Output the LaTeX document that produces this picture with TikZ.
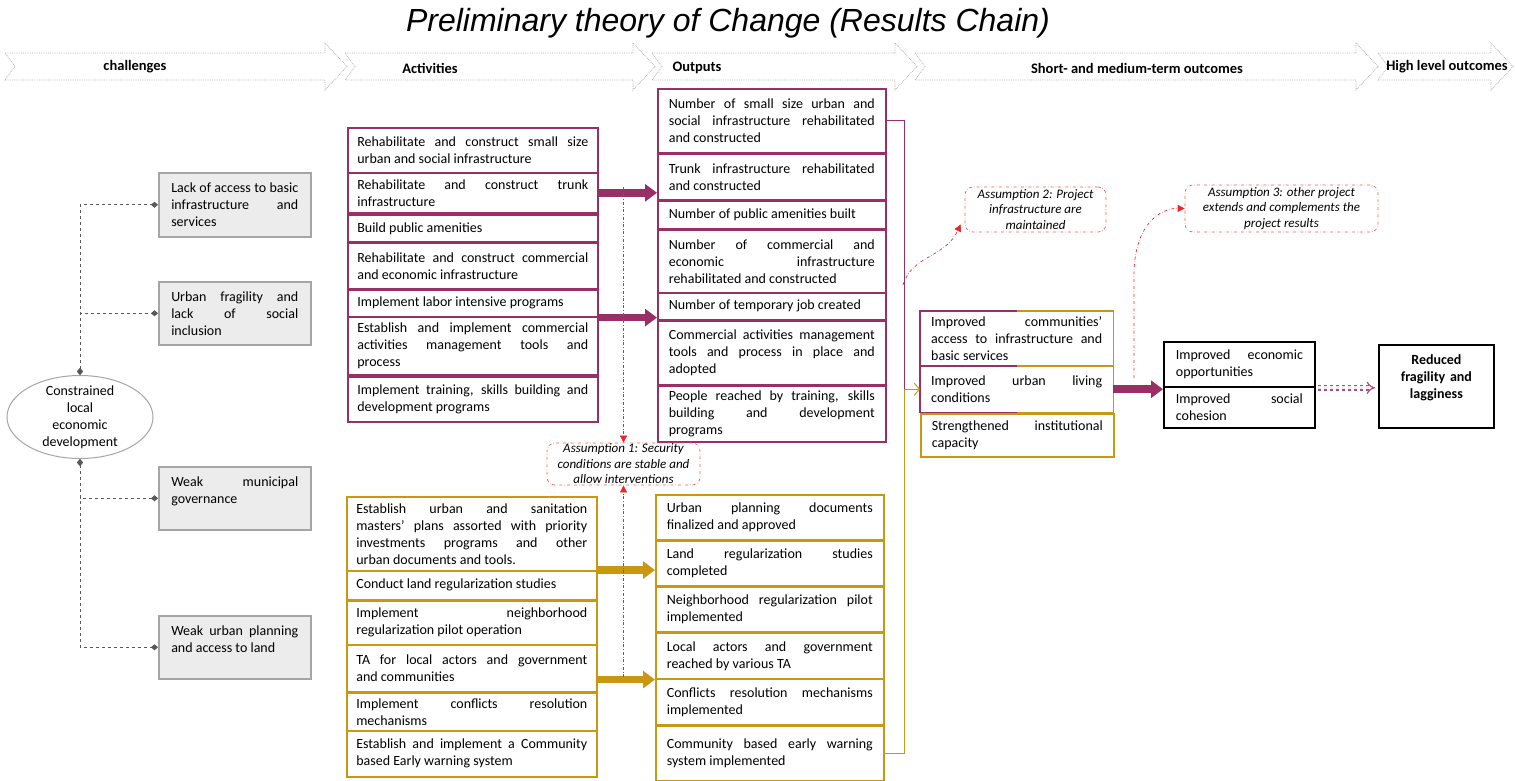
\documentclass[tikz,border=0pt]{standalone}
\usepackage{fontspec}
\setmainfont{Carlito}
\newfontfamily\titlefont{Liberation Sans}
\usetikzlibrary{arrows.meta,shapes.geometric,positioning}

\definecolor{plum}{RGB}{152,48,101}
\definecolor{ochre}{RGB}{201,152,16}
\definecolor{chalfill}{RGB}{236,236,236}
\definecolor{challine}{RGB}{165,165,165}
\definecolor{asmred}{RGB}{235,40,40}

\newcommand\boxfont{\fontsize{14}{17}\selectfont\hyphenpenalty=10000\exhyphenpenalty=10000\tolerance=10000}
\newcommand\asmfont{\fontsize{13}{15.5}\selectfont\itshape}
\newcommand\topgap[1]{\par\vspace{#1}\hrule height 0pt}

\tikzset{
  hdr/.style={draw=gray!60, densely dotted, line width=0.8pt},
  hdrtext/.style={font=\fontsize{14.5}{17}\selectfont\bfseries},
  chalbox/.style={draw=challine, fill=chalfill, line width=1.5pt, anchor=north west,
    align=justify, font=\boxfont, text width=127pt, inner xsep=12.5pt, inner ysep=4pt,
    minimum height=63pt},
  chalell/.style={draw=challine, ellipse, line width=1pt, minimum width=146pt,
    minimum height=83pt, inner sep=0pt},
  dashline/.style={draw=gray!70!black, dashed, line width=0.8pt,
    {Diamond[length=7pt,width=6pt]}-{Diamond[length=7pt,width=6pt]}},
  actbox/.style={draw=#1, line width=1.6pt, anchor=north west, align=justify,
    font=\boxfont, text width=231pt, inner xsep=9.5pt, inner ysep=3pt},
  outbox/.style={draw=#1, line width=1.6pt, anchor=north west, align=justify,
    font=\boxfont, text width=206pt, inner xsep=11pt, inner ysep=3pt},
  outcbox/.style={anchor=north west, align=justify, font=\boxfont,
    text width=171pt, inner xsep=11pt, inner ysep=3pt},
  resbox/.style={draw=black, line width=1.8pt, anchor=north west, align=justify,
    font=\boxfont, text width=127pt, inner xsep=12pt, inner ysep=3pt},
  asm/.style={draw=asmred!75, dash dot, line width=0.7pt, rounded corners=8pt,
    align=center, font=\asmfont, inner sep=1pt},
  assume/.style={draw=asmred, dash dot, line width=0.7pt,
    -{Triangle[length=7pt,width=7pt]}},
  bigarrow/.style={draw=#1, line width=7.5pt, -{Triangle[length=12pt,width=17pt]}},
  dbl/.style={draw=plum!85, dashed, line width=1.2pt, double=plum!10,
    double distance=3pt, -{Implies}},
}

\begin{document}
\begin{tikzpicture}[x=1pt,y=-1pt]
\useasboundingbox (0,0) rectangle (1515,780);

% title
\node[font=\titlefont\itshape\fontsize{32}{36}\selectfont] (title) at (728,23)
  {Preliminary theory of Change (Results Chain)};

% header arrows
\foreach \a/\b in {5/347,345/655,652/917,915/1378,1378/1513}
  \draw[hdr] (\a,53) -- ({\b-22},53) -- ({\b-22},43) -- (\b,66.5) -- ({\b-22},90)
    -- ({\b-22},80) -- (\a,80) -- ({\a+10},66.5) -- cycle;
\node[hdrtext] (hchal) at (135,67) {challenges};
\node[hdrtext] (hact) at (430,68) {Activities};
\node[hdrtext] (hout) at (697,68) {Outputs};
\node[hdrtext] (hsmt) at (1137,68) {Short- and medium-term outcomes};
\node[hdrtext] (hhigh) at (1447,67) {High level outcomes};

% challenges
\node[chalell] (ell) at (80,417) {};
\node[font=\boxfont, align=center] (elltext) at (ell) {Constrained\\local\\economic\\development};
\node[chalbox, minimum height=64pt] (c1) at (158,172) {Lack of access to basic \linebreak infrastructure and \linebreak services};
\node[chalbox] (c2) at (158,281) {Urban fragility and \linebreak lack of social \linebreak inclusion};
\node[chalbox] (c3) at (158,466) {Weak municipal \linebreak governance\topgap{14pt}};
\node[chalbox] (c4) at (158,615) {Weak urban planning \linebreak and access to land\topgap{16pt}};
\draw[dashline] (ell.north) |- (c1.west);
\draw[dashline] (ell.north) |- (c2.west);
\draw[dashline] (ell.south) |- (c3.west);
\draw[dashline] (ell.south) |- (c4.west);

% activities (infrastructure)
\node[actbox=plum, minimum height=45pt] (A1) at (347,127) {Rehabilitate and construct small size \linebreak urban and social infrastructure};
\node[actbox=plum, minimum height=40pt] (A2) at (347,172) {Rehabilitate and construct trunk \linebreak infrastructure};
\node[actbox=plum, minimum height=27pt] (A3) at (347,214) {Build public amenities};
\node[actbox=plum, minimum height=46pt] (A4) at (347,242) {Rehabilitate and construct commercial \linebreak and economic infrastructure};
\node[actbox=plum, minimum height=27pt] (A5) at (347,289) {Implement labor intensive programs};
\node[actbox=plum, minimum height=58pt] (A6) at (347,316) {Establish and implement commercial \linebreak activities management tools and \linebreak process};
\node[actbox=plum, minimum height=45pt] (A7) at (347,376) {Implement training, skills building and \linebreak development programs};

% outputs (infrastructure)
\node[outbox=plum, minimum height=64pt] (O1) at (657,88) {Number of small size urban and \linebreak social infrastructure rehabilitated \linebreak and constructed};
\node[outbox=plum, minimum height=46pt] (O2) at (657,153) {Trunk infrastructure rehabilitated \linebreak and constructed};
\node[outbox=plum, minimum height=28pt] (O3) at (657,200) {Number of public amenities built};
\node[outbox=plum, minimum height=63pt] (O4) at (657,229) {Number of commercial and \linebreak economic infrastructure \linebreak rehabilitated and constructed};
\node[outbox=plum, minimum height=27pt] (O5) at (657,292) {Number of temporary job created};
\node[outbox=plum, minimum height=64pt] (O6) at (657,320) {Commercial activities management \linebreak tools and process in place and \linebreak adopted};
\node[outbox=plum, minimum height=56pt] (O7) at (657,385) {People reached by training, skills \linebreak building and development \linebreak programs};

% activities (planning)
\node[actbox=ochre, minimum height=74pt] (G1) at (346,496) {Establish urban and sanitation \linebreak masters' plans assorted with priority \linebreak investments programs and other \linebreak urban documents and tools.};
\node[actbox=ochre, minimum height=29pt] (G2) at (346,570) {Conduct land regularization studies};
\node[actbox=ochre, minimum height=44pt] (G3) at (346,600) {Implement neighborhood \linebreak regularization pilot operation};
\node[actbox=ochre, minimum height=47pt] (G4) at (346,644) {TA for local actors and government \linebreak and communities};
\node[actbox=ochre, minimum height=38pt] (G5) at (346,692) {Implement conflicts resolution \linebreak mechanisms};
\node[actbox=ochre, minimum height=46pt] (G6) at (346,730) {Establish and implement a Community \linebreak based Early warning system};

% outputs (planning)
\node[outbox=ochre, minimum height=45pt] (P1) at (655,494) {Urban planning documents \linebreak finalized and approved};
\node[outbox=ochre, minimum height=45pt] (P2) at (655,540) {Land regularization studies \linebreak completed};
\node[outbox=ochre, minimum height=45pt] (P3) at (655,586) {Neighborhood regularization pilot \linebreak implemented};
\node[outbox=ochre, minimum height=46pt] (P4) at (655,632) {Local actors and government \linebreak reached by various TA};
\node[outbox=ochre, minimum height=46pt] (P5) at (655,678) {Conflicts resolution mechanisms \linebreak implemented};
\node[outbox=ochre, minimum height=55pt] (P6) at (655,725) {Community based early warning \linebreak system implemented};

% outcomes
\node[outcbox, draw=ochre, line width=1.6pt, minimum height=43pt] (U3) at (920,413) {Strengthened institutional \linebreak capacity};
\node[outcbox, minimum height=55pt] (U1) at (920,311) {Improved communities' \linebreak access to infrastructure and \linebreak basic services};
\node[outcbox, minimum height=46pt] (U2) at (920,366) {Improved urban living \linebreak conditions};
\foreach \u in {U1,U2} {
  \draw[plum, line width=1.6pt] (\u.north) -- (\u.north west) -- (\u.south west) -- (\u.south);
  \draw[ochre, line width=1.6pt] (\u.north) -- (\u.north east) -- (\u.south east) -- (\u.south);
}

% high level
\node[resbox, minimum height=45pt] (R1) at (1163,341) {Improved economic \linebreak opportunities};
\node[resbox, minimum height=41pt] (R2) at (1163,386) {Improved social \linebreak cohesion};
\node[resbox, minimum height=83pt, text width=95pt, inner xsep=10pt, align=center] (reduced) at (1378,344)
  {\textbf{Reduced}\\\textbf{fragility and}\\\textbf{lagginess}\topgap{18pt}};

% assumptions
\node[asm, minimum width=153pt, minimum height=42pt] (S1) at (623.5,464) {Assumption 1: Security\\conditions are stable and\\allow interventions};
\node[asm, minimum width=141pt, minimum height=45pt] (S2) at (1035.5,209.5) {Assumption 2: Project\\infrastructure are\\maintained};
\node[asm, minimum width=193pt, minimum height=47pt] (S3) at (1281.5,208.5) {Assumption 3: other project\\extends and complements the\\project results};

% block arrows
\draw[bigarrow=plum] (A2.east) -- (A2.east -| O2.west);
\draw[bigarrow=plum] (A5.south east) -- (A5.south east -| O5.west);
\draw[bigarrow=ochre] (G2.north east) -- (G2.north east -| P2.west);
\draw[bigarrow=ochre] (G4.east |- P4.south west) -- (P4.south west);
\draw[bigarrow=plum] (U2.east) -- (U2.east -| R1.west);
\draw[dbl, shorten <=2pt, shorten >=3pt] (R1.south east) -- (R1.south east -| reduced.west);

% outputs to outcomes
\draw[plum, line width=1pt] (O1.east) -- ++(18,0) |- (U2.west);
\draw[ochre, line width=1pt, -{Straight Barb[length=5pt,width=12pt]}] (P6.east) -- ++(20,0) |- (U2.west);

% assumption links
\coordinate (a1top) at (623.5,187);
\coordinate (a1bot) at (623.5,677);
\coordinate (a2) at (903,285);
\coordinate (a3) at (1134,378);
\draw[assume] (a1top) -- (S1.north);
\draw[assume] (a1bot) -- (S1.south);
\draw[assume] (a2) .. controls (912,255) and (945,258) .. ([shift={(-4pt,8pt)}]S2.south west);
\draw[assume] (a3) -- (1134,275) .. controls (1134,225) and (1160,208) .. (S3.west);
\end{tikzpicture}
\end{document}
